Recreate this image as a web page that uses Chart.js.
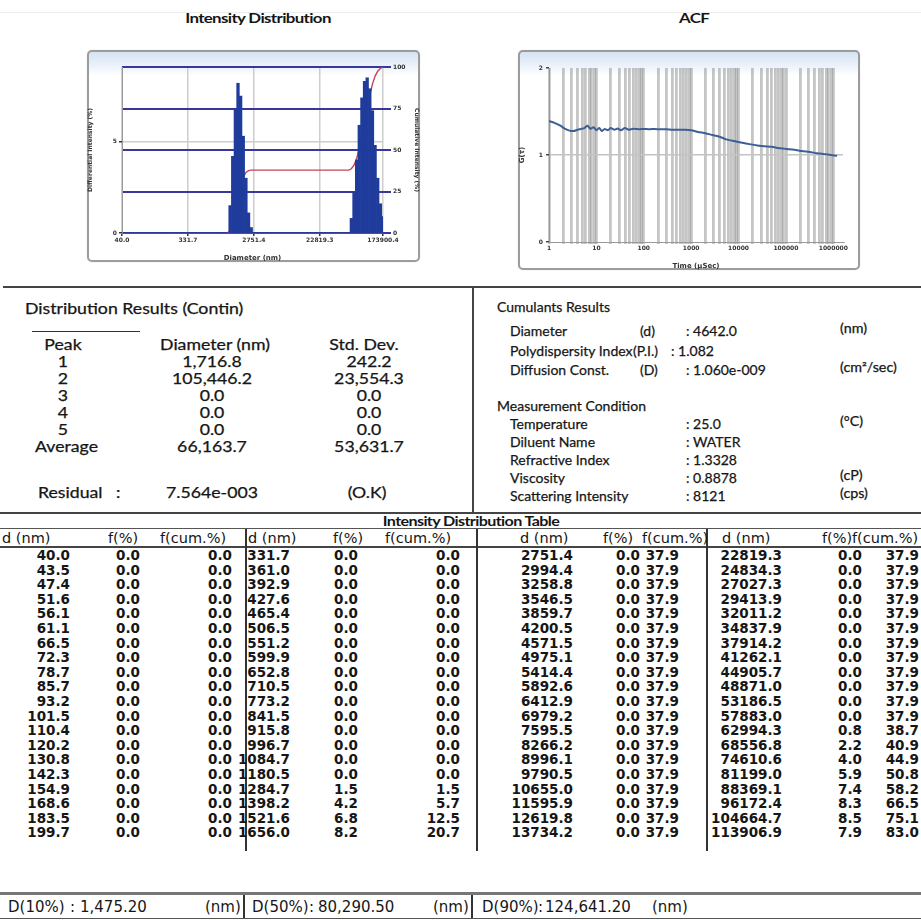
<!DOCTYPE html>
<html><head><meta charset="utf-8">
<script src="https://cdn.jsdelivr.net/npm/chart.js@4.4.1/dist/chart.umd.min.js"></script>
<style>
html,body{margin:0;padding:0;background:#fff;}
#page{position:relative;width:921px;height:920px;overflow:hidden;font-family:Lato,"Open Sans",sans-serif;color:#161616;}
.t{position:absolute;white-space:nowrap;line-height:1;}
.ln{position:absolute;}
.panel{position:absolute;border:2px solid #9c9c9c;border-radius:5px;box-sizing:border-box;background:linear-gradient(#d6e3f2 0,#e9f0f9 12px,#ffffff 24px);box-shadow:0 0 1px #bbb;}
canvas{position:absolute;}
</style></head><body><div id="page">
<div class="panel" style="left:87px;top:50px;width:333px;height:212px"></div>
<div class="panel" style="left:518px;top:50px;width:342px;height:220px"></div>
<canvas id="cInt" width="333" height="212" style="left:87px;top:50px"></canvas>
<canvas id="cAcf" width="342" height="220" style="left:518px;top:50px"></canvas>
</div>
<script>
// ---------- data ----------
const dNm = [
  40.0, 43.5, 47.4, 51.6, 56.1, 61.1, 66.5, 72.3, 78.7, 85.7, 93.2, 101.5, 110.4, 120.2, 130.8, 142.3, 154.9, 168.6, 183.5, 199.7, 217.3, 236.5, 257.4, 280.1, 304.8,
  331.7, 361.0, 392.9, 427.6, 465.4, 506.5, 551.2, 599.9, 652.8, 710.5, 773.2, 841.5, 915.8, 996.7, 1084.7, 1180.5, 1284.7, 1398.2, 1521.6, 1656.0, 1802.2, 1961.4, 2134.6, 2323.1, 2528.2,
  2751.4, 2994.4, 3258.8, 3546.5, 3859.7, 4200.5, 4571.5, 4975.1, 5414.4, 5892.6, 6412.9, 6979.2, 7595.5, 8266.2, 8996.1, 9790.5, 10655.0, 11595.9, 12619.8, 13734.2, 14946.9, 16266.6, 17703.0, 19266.2, 20967.4,
  22819.3, 24834.3, 27027.3, 29413.9, 32011.2, 34837.9, 37914.2, 41262.1, 44905.7, 48871.0, 53186.5, 57883.0, 62994.3, 68556.8, 74610.6, 81199.0, 88369.1, 96172.4, 104664.7, 113906.9, 123966.0, 134913.0, 146826.8, 159791.5, 173900.4
];
const fPct = [
  0,0,0,0,0,0,0,0,0,0,0,0,0,0,0,0,0,0,0,0,0,0,0,0,0,
  0,0,0,0,0,0,0,0,0,0,0,0,0,0,0,0,1.5,4.2,6.8,8.2,7.5,5.3,3.0,1.1,0.3,
  0,0,0,0,0,0,0,0,0,0,0,0,0,0,0,0,0,0,0,0,0,0,0,0,0,
  0,0,0,0,0,0,0,0,0,0,0,0,0.8,2.2,4.0,5.9,7.4,8.3,8.5,7.9,6.7,4.8,3.0,1.6,0.9
];
const fCum = [
  0,0,0,0,0,0,0,0,0,0,0,0,0,0,0,0,0,0,0,0,0,0,0,0,0,
  0,0,0,0,0,0,0,0,0,0,0,0,0,0,0,0,1.5,5.7,12.5,20.7,28.2,33.5,36.5,37.6,37.9,
  37.9,37.9,37.9,37.9,37.9,37.9,37.9,37.9,37.9,37.9,37.9,37.9,37.9,37.9,37.9,37.9,37.9,37.9,37.9,37.9,37.9,37.9,37.9,37.9,37.9,
  37.9,37.9,37.9,37.9,37.9,37.9,37.9,37.9,37.9,37.9,37.9,37.9,38.7,40.9,44.9,50.8,58.2,66.5,75.1,83.0,89.7,94.5,97.5,99.1,100.0
];
const xTickIdx = [0, 25, 50, 75, 99];

const acfTime = [1,1.3,1.7,2.2,2.7,3.3,4,4.8,5.6,6.5,7.5,8.7,10,11.5,13,15,17.5,20,24,28,33,40,48,57,68,80,100,130,170,220,300,400,550,750,1000,1400,2000,2800,4000,5500,8000,12000,17000,25000,35000,50000,70000,100000,150000,220000,320000,450000,650000,900000,1200000];
const acfG = [1.39,1.37,1.34,1.30,1.28,1.275,1.29,1.30,1.31,1.335,1.30,1.32,1.285,1.31,1.275,1.30,1.285,1.31,1.29,1.305,1.285,1.31,1.29,1.30,1.30,1.295,1.30,1.295,1.30,1.295,1.295,1.29,1.29,1.29,1.285,1.265,1.25,1.23,1.21,1.18,1.16,1.14,1.125,1.11,1.10,1.095,1.08,1.07,1.06,1.045,1.035,1.02,1.01,1.0,0.99];
const acfTickLabels = [1, 10, 100, 1000, 10000, 100000, 1000000];

const peakNames = ['1','2','3','4','5','Average'];
const peakDiam = ['1,716.8','105,446.2','0.0','0.0','0.0','66,163.7'];
const peakStd = ['242.2','23,554.3','0.0','0.0','0.0','53,631.7'];

const cumulantRows = [
  ['Diameter','(d)',': 4642.0','(nm)'],
  ['Polydispersity Index','(P.I.)',': 1.082',''],
  ['Diffusion Const.','(D)',': 1.060e-009','(cm²/sec)']
];
const conditionRows = [
  ['Temperature',': 25.0','(°C)'],
  ['Diluent Name',': WATER',''],
  ['Refractive Index',': 1.3328',''],
  ['Viscosity',': 0.8878','(cP)'],
  ['Scattering Intensity',': 8121','(cps)']
];
const dPercentiles = [['D(10%)','1,475.20'],['D(50%)','80,290.50'],['D(90%)','124,641.20']];

// ---------- helpers ----------
const page = document.getElementById('page');
function txt(s, x, y, o = {}) {
  const d = document.createElement('div');
  d.className = 't';
  d.textContent = s;
  d.style.fontSize = (o.size || 14.5) + 'px';
  if (o.font) d.style.fontFamily = o.font;
  if (o.weight) d.style.fontWeight = o.weight;
  if (o.stretch) d.style.fontStretch = o.stretch;
  if (o.ls) d.style.letterSpacing = o.ls + 'px';
  if (o.stroke) d.style.webkitTextStroke = o.stroke + 'px #161616';
  const al = o.align || 'left';
  const ax = al === 'right' ? -100 : al === 'center' ? -50 : 0;
  d.style.left = x + 'px';
  d.style.top = y + 'px';
  d.style.transformOrigin = (al === 'right' ? '100%' : al === 'center' ? '50%' : '0%') + ' 50%';
  d.style.transform = `translate(${ax}%,-50%) scaleX(${o.sx || 1})`;
  page.appendChild(d);
  return d;
}
function ln(x, y, w, h, c) {
  const d = document.createElement('div');
  d.className = 'ln';
  Object.assign(d.style, {left: x + 'px', top: y + 'px', width: w + 'px', height: h + 'px', background: c || '#3a3a3a'});
  page.appendChild(d);
}

// ---------- titles ----------
ln(0, 12, 921, 1, '#ececec');
txt('Intensity Distribution', 258, 18, {size: 13, weight: 700, ls: -0.5, align: 'center', sx: 1.3});
txt('ACF', 694, 18, {size: 13, weight: 700, ls: -0.5, align: 'center', sx: 1.3});

// ---------- results section ----------
const lp = {size: 14.5, stroke: 0.25, sx: 1.22};
const rp = {size: 14, stroke: 0.25};
ln(3, 286, 918, 2, '#444');
ln(472, 287, 2, 226, '#444');
txt('Distribution Results (Contin)', 25, 309, lp);
ln(32, 331, 108, 1, '#333');
txt('Peak', 63, 345, {...lp, align: 'center'});
txt('Diameter (nm)', 215, 345, {...lp, align: 'center'});
txt('Std. Dev.', 364, 345, {...lp, align: 'center'});
const rowY = [362, 379, 396, 413, 430, 447];
peakNames.forEach((p, i) => {
  if (i === 5) txt(p, 35, rowY[i], lp);
  else txt(p, 63, rowY[i], {...lp, align: 'center'});
  txt(peakDiam[i], 212, rowY[i], {...lp, align: 'center'});
  txt(peakStd[i], 369, rowY[i], {...lp, align: 'center'});
});
txt('Residual', 38, 493, lp);
txt(':', 116, 493, lp);
txt('7.564e-003', 212, 493, {...lp, align: 'center'});
txt('(O.K)', 367, 493, {...lp, align: 'center'});

txt('Cumulants Results', 497, 307, rp);
const cumY = [331, 351, 370];
cumulantRows.forEach((r, i) => {
  txt(r[0], 510, cumY[i], rp);
  txt(r[1], i === 1 ? 633 : 640, cumY[i], rp);
  txt(r[2], i === 1 ? 671 : 686, cumY[i], rp);
  if (r[3]) txt(r[3], 840, cumY[i] - 3, {...rp, size: 13, sx: 1.1});
});
txt('Measurement Condition', 497, 406, rp);
const condY = [424, 442, 460, 478, 496];
conditionRows.forEach((r, i) => {
  txt(r[0], 510, condY[i], rp);
  txt(r[1], 686, condY[i], rp);
  if (r[2]) txt(r[2], 840, condY[i] - 3, {...rp, size: 13, sx: 1.1});
});

// ---------- intensity distribution table ----------
ln(0, 512, 921, 2, '#444');
txt('Intensity Distribution Table', 471, 521, {size: 13, weight: 700, ls: -0.5, align: 'center', sx: 1.24});
ln(0, 528, 921, 1, '#555');
ln(0, 546, 921, 2, '#444');
[245, 476, 706].forEach(x => ln(x, 529, 1.5, 322, '#333'));
const tb = {size: 13.5, font: '"DejaVu Sans",sans-serif', weight: 700, align: 'right'};
const th = {size: 14.5, font: '"DejaVu Sans",sans-serif'};
const tableHeaders = ['d (nm)', 'f(%)', 'f(cum.%)'];
const groups = [
  {d: 70, f: 140, c: 232, h: [2, 108, 160]},
  {d: 290, f: 358, c: 460, h: [248, 333, 385]},
  {d: 573, f: 640, c: 679, h: [520, 603, 642]},
  {d: 782, f: 862, c: 919, h: [722, 822, 852]}
];
groups.forEach((g, gi) => {
  tableHeaders.forEach((h, k) => txt(h, g.h[k], 538, th));
  for (let r = 0; r < 20; r++) {
    const i = gi * 25 + r;
    const y = 556 + r * 14.6;
    txt(dNm[i].toFixed(1), g.d, y, tb);
    txt(fPct[i].toFixed(1), g.f, y, tb);
    txt(fCum[i].toFixed(1), g.c, y, tb);
  }
});

// footer
ln(0, 892, 921, 3, '#777');
ln(0, 918, 921, 1, '#555');
ln(243, 895, 1.5, 23, '#333');
ln(471, 895, 1.5, 23, '#333');
const ft = {size: 15, font: '"DejaVu Sans",sans-serif'};
const fx = [[8, 70, 80, 205], [252, 309, 318, 433], [482, 538, 545, 652]];
dPercentiles.forEach((d, i) => {
  txt(d[0], fx[i][0], 907, ft);
  txt(':', fx[i][1], 907, ft);
  txt(d[1], fx[i][2], 907, ft);
  txt('(nm)', fx[i][3], 907, ft);
});

// ---------- charts ----------
const tickFont = {family: 'DejaVu Sans', size: 6, weight: 'bold'};
new Chart(document.getElementById('cInt'), {
  data: {
    labels: dNm.map(v => v.toFixed(1)),
    datasets: [
      {type: 'bar', data: fPct, yAxisID: 'y', order: 1, backgroundColor: '#1f3c9c', borderWidth: 0,
       barPercentage: 1, categoryPercentage: 1},
      {type: 'line', data: fCum, yAxisID: 'y2', order: 2, borderWidth: 1.4, pointRadius: 0, tension: 0,
       borderColor: '#c24458',
       segment: {borderColor: c => (c.p0.parsed.y === 0 && c.p1.parsed.y === 0) ? 'rgba(0,0,0,0)' : '#c24458'}}
    ]
  },
  options: {
    responsive: false, animation: false,
    layout: {padding: {top: 17, left: 0, right: 0, bottom: 0}},
    plugins: {legend: {display: false}, tooltip: {enabled: false}},
    scales: {
      x: {
        offset: false,
        grid: {offset: false, lineWidth: 1.5,
               color: c => xTickIdx.includes(c.index) ? '#cdcdcd' : 'rgba(0,0,0,0)',
               tickColor: c => xTickIdx.includes(c.index) ? '#333' : 'rgba(0,0,0,0)', tickLength: 3},
        border: {color: '#555', width: 1},
        ticks: {autoSkip: false, maxRotation: 0, minRotation: 0, padding: 1, font: tickFont, color: '#333',
                callback: (v, i) => xTickIdx.includes(i) ? dNm[i].toFixed(1) : ''},
        title: {display: true, text: 'Diameter (nm)', font: {family: 'DejaVu Sans', size: 7, weight: 'bold'}, color: '#333', padding: {top: 2, bottom: 0}},
        afterFit: s => { s.height = 29; }
      },
      y: {
        position: 'left', min: 0, max: 9.09,
        afterBuildTicks: s => { s.ticks = [{value: 0}, {value: 5}]; },
        grid: {lineWidth: 1.5, color: c => c.tick && c.tick.value === 5 ? '#cdcdcd' : 'rgba(0,0,0,0)', tickColor: '#333', tickLength: 3},
        border: {color: '#9a9a9a'},
        ticks: {font: tickFont, color: '#333', padding: 2},
        title: {display: true, text: 'Differential Intensity (%)', font: {family: 'DejaVu Sans', size: 6, weight: 'bold'}, color: '#333', padding: 0},
        afterFit: s => { s.width = 35; }
      },
      y2: {
        position: 'right', min: 0, max: 100,
        ticks: {stepSize: 25, font: tickFont, color: '#333', padding: 2},
        grid: {color: '#38389c', lineWidth: 2, tickLength: 8},
        border: {display: false},
        title: {display: true, text: 'Cumulative Intensity (%)', font: {family: 'DejaVu Sans', size: 6, weight: 'bold'}, color: '#333', padding: 0},
        afterFit: s => { s.width = 37; }
      }
    }
  }
});

const acfGridTimes = [];
for (let e = 0; e <= 6; e++) for (let k = 1; k <= 9; k++) { const v = k * Math.pow(10, e); if (v <= 1.6e6) acfGridTimes.push(v); }

new Chart(document.getElementById('cAcf'), {
  type: 'line',
  data: {datasets: [{data: acfTime.map((t, i) => ({x: t, y: acfG[i]})), borderColor: '#3d5f96', borderWidth: 2, pointRadius: 0, tension: 0.2}]},
  options: {
    responsive: false, animation: false,
    layout: {padding: {top: 18, right: 17, left: 0, bottom: 0}},
    plugins: {legend: {display: false}, tooltip: {enabled: false}},
    scales: {
      x: {
        type: 'logarithmic', min: 1, max: 1.6e6,
        afterBuildTicks: s => { s.ticks = acfGridTimes.map(v => ({value: v})); },
        grid: {color: 'rgba(140,140,140,0.5)', lineWidth: 2.8, tickLength: 2},
        border: {color: '#999'},
        ticks: {autoSkip: false, maxRotation: 0, minRotation: 0, padding: 1, font: tickFont, color: '#333',
                callback: v => acfTickLabels.includes(Math.round(v)) ? String(Math.round(v)) : ''},
        title: {display: true, text: 'Time (µSec)', font: {family: 'DejaVu Sans', size: 7, weight: 'bold'}, color: '#333', padding: {top: 2, bottom: 0}},
        afterFit: s => { s.height = 28; }
      },
      y: {
        min: 0, max: 2,
        ticks: {stepSize: 1, font: tickFont, color: '#333', padding: 3},
        grid: {lineWidth: 1.5, color: c => c.tick && c.tick.value === 1 ? '#c4c4c4' : 'rgba(0,0,0,0)', tickLength: 3, tickColor: '#444'},
        border: {color: '#999'},
        title: {display: true, text: 'G(τ)', font: {family: 'DejaVu Sans', size: 7, weight: 'bold'}, color: '#333', padding: 0},
        afterFit: s => { s.width = 31; }
      }
    }
  }
});
</script>
</body></html>
